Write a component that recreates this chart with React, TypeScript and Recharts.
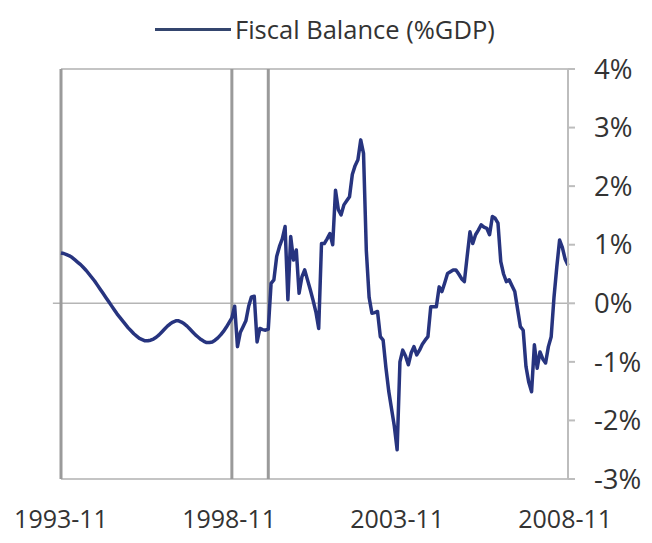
import React from "react";
import { LineChart, Line, XAxis, YAxis, ReferenceLine, Legend } from "recharts";

// Monthly categories 1993-11 .. 2008-12
const startYear = 1993;
const startMonth = 11;
const monthCount = 182;
const months: string[] = [];
for (let k = 0; k < monthCount; k++) {
  const t = startMonth - 1 + k;
  const y = startYear + Math.floor(t / 12);
  const m = (t % 12) + 1;
  months.push(`${y}-${String(m).padStart(2, "0")}`);
}

// Fiscal balance (% of GDP), one value per month
const fiscalBalance: number[] = [
  0.86, 0.85, 0.83, 0.81, 0.78, 0.74, 0.70, 0.66, 0.61, 0.56,
  0.50, 0.44, 0.38, 0.31, 0.24, 0.17, 0.10, 0.03, -0.04, -0.11,
  -0.18, -0.24, -0.30, -0.36, -0.42, -0.47, -0.52, -0.56, -0.60, -0.62,
  -0.64, -0.64, -0.63, -0.61, -0.58, -0.54, -0.49, -0.44, -0.39, -0.35,
  -0.32, -0.30, -0.30, -0.32, -0.35, -0.39, -0.44, -0.49, -0.54, -0.58,
  -0.62, -0.65, -0.67, -0.67, -0.66, -0.63, -0.59, -0.54, -0.48, -0.41,
  -0.33, -0.25, -0.05, -0.74, -0.50, -0.40, -0.30, -0.05, 0.11, 0.12,
  -0.66, -0.43, -0.45, -0.46, -0.44, 0.34, 0.40, 0.80, 0.97, 1.10,
  1.31, 0.06, 1.14, 0.74, 0.91, 0.17, 0.45, 0.57, 0.40, 0.23,
  0.05, -0.15, -0.43, 1.02, 1.02, 1.10, 1.19, 1.00, 1.93, 1.60,
  1.51, 1.68, 1.75, 1.82, 2.20, 2.35, 2.45, 2.79, 2.56, 0.90,
  0.10, -0.17, -0.16, -0.14, -0.57, -0.63, -1.10, -1.50, -1.80, -2.10,
  -2.50, -1.00, -0.80, -0.90, -1.05, -0.85, -0.74, -0.88, -0.80, -0.70,
  -0.63, -0.57, -0.06, -0.06, -0.06, 0.28, 0.20, 0.35, 0.51, 0.54,
  0.57, 0.57, 0.50, 0.42, 0.37, 0.80, 1.22, 1.02, 1.17, 1.25,
  1.34, 1.30, 1.28, 1.17, 1.48, 1.45, 1.37, 0.71, 0.50, 0.37,
  0.40, 0.30, 0.20, -0.10, -0.40, -0.46, -1.08, -1.35, -1.51, -0.71,
  -1.11, -0.83, -0.95, -1.02, -0.74, -0.57, 0.10, 0.62, 1.08, 0.95,
  0.75, 0.65,
];

const xTickLabels = ["1993-11", "1998-11", "2003-11", "2008-11"];
const yTicks = [4, 3, 2, 1, 0, -1, -2, -3];
const markerMonths = ["1998-12", "2000-01"];
const seriesName = "Fiscal Balance (%GDP)";

const data = months.map((m, i) => ({ i, month: m, value: fiscalBalance[i] }));
const xTicks = xTickLabels.map((l) => months.indexOf(l));
const lastIndex = months.length - 1;

const LINE_COLOR = "#27347f";
const FONT = "'Open Sans', 'Noto Sans', sans-serif";

const LegendContent = () => (
  <div style={{ height: 59, position: "relative" }}>
    <div
      style={{
        position: "absolute",
        left: 155,
        top: 0,
        height: 38,
        display: "flex",
        alignItems: "center",
      }}
    >
      <span style={{ display: "inline-block", width: 76, height: 3, background: "#34456e" }} />
      <span style={{ marginLeft: 4, fontFamily: FONT, fontSize: 25.5, color: "#333" }}>{seriesName}</span>
    </div>
  </div>
);

export default function App() {
  return (
    <div style={{ position: "absolute", left: 0, top: 0, width: 652, height: 543, background: "#fff" }}>
      <LineChart width={652} height={543} data={data} margin={{ top: 10, right: 0, left: 61, bottom: 0 }}>
        <Legend verticalAlign="top" align="left" content={LegendContent} wrapperStyle={{ left: 0, width: 652 }} />
        <XAxis
          dataKey="i"
          type="number"
          domain={[0, lastIndex]}
          ticks={xTicks}
          tickFormatter={(v: number) => months[v]}
          axisLine={false}
          tickLine={false}
          tickSize={0}
          tickMargin={31}
          height={64}
          interval={0}
          tick={{ fill: "#333", fontSize: 25, fontFamily: FONT }}
        />
        <YAxis
          orientation="right"
          width={84}
          domain={[-3, 4]}
          ticks={yTicks}
          interval={0}
          tickFormatter={(v: number) => `${v}%`}
          axisLine={{ stroke: "#bdbdbd", strokeWidth: 2 }}
          tickLine={{ stroke: "#bdbdbd", strokeWidth: 2 }}
          tickSize={7}
          tickMargin={19}
          tick={{ fill: "#333", fontSize: 27.5, fontFamily: FONT, textAnchor: "start" }}
        />
        <ReferenceLine y={4} stroke="#c4c4c4" strokeWidth={2} />
        <ReferenceLine y={-3} stroke="#c4c4c4" strokeWidth={2} />
        <ReferenceLine
          segment={[{ x: -2.9, y: 0 }, { x: lastIndex, y: 0 }]}
          stroke="#b5b5b5"
          strokeWidth={1.5}
          ifOverflow="visible"
        />
        <ReferenceLine x={0} stroke="#9a9a9a" strokeWidth={3} />
        {markerMonths.map((m) => (
          <ReferenceLine key={m} x={months.indexOf(m)} stroke="#9a9a9a" strokeWidth={3} />
        ))}
        <Line
          type="linear"
          dataKey="value"
          name={seriesName}
          stroke={LINE_COLOR}
          strokeWidth={3.5}
          strokeLinejoin="round"
          dot={false}
          isAnimationActive={false}
        />
      </LineChart>
    </div>
  );
}
